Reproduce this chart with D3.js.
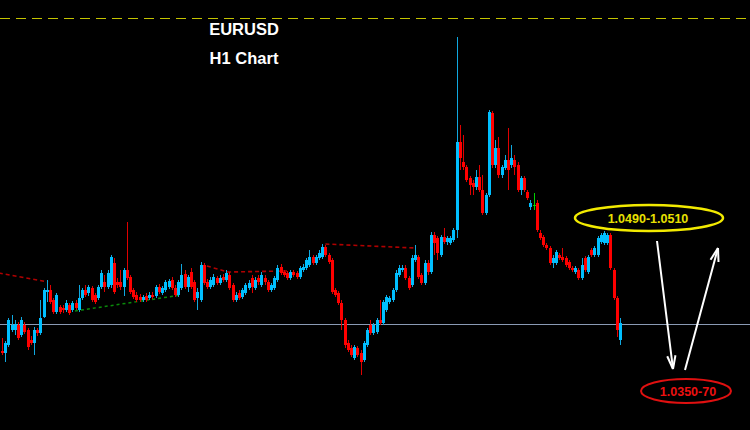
<!DOCTYPE html>
<html><head><meta charset="utf-8">
<script src="https://cdn.jsdelivr.net/npm/d3@7"></script>
<style>html,body{margin:0;padding:0;background:#000;}svg{display:block;}</style>
</head><body><svg id="c" width="750" height="430"></svg>
<script>
const opens = [1.0384,1.0382,1.0390,1.0405,1.0405,1.0410,1.0400,1.0410,1.0405,1.0395,1.0392,1.0405,1.0402,1.0418,1.0443,1.0445,1.0435,1.0423,1.0428,1.0427,1.0425,1.0430,1.0425,1.0432,1.0425,1.0437,1.0445,1.0442,1.0447,1.0440,1.0437,1.0448,1.0453,1.0448,1.0450,1.0472,1.0453,1.0453,1.0448,1.0465,1.0458,1.0445,1.0440,1.0438,1.0435,1.0439,1.0437,1.0440,1.0439,1.0448,1.0442,1.0445,1.0448,1.0455,1.0447,1.0440,1.0447,1.0461,1.0448,1.0463,1.0453,1.0437,1.0435,1.0470,1.0453,1.0448,1.0450,1.0457,1.0452,1.0458,1.0455,1.0460,1.0450,1.0435,1.0442,1.0438,1.0442,1.0447,1.0457,1.0447,1.0457,1.0450,1.0457,1.0453,1.0445,1.0447,1.0455,1.0468,1.0463,1.0462,1.0457,1.0463,1.0462,1.0458,1.0465,1.0467,1.0470,1.0478,1.0472,1.0477,1.0478,1.0488,1.0480,1.0475,1.0445,1.0442,1.0432,1.0415,1.0392,1.0387,1.0377,1.0387,1.0382,1.0375,1.0390,1.0410,1.0402,1.0403,1.0415,1.0412,1.0425,1.0433,1.0435,1.0445,1.0460,1.0465,1.0467,1.0457,1.0450,1.0475,1.0478,1.0460,1.0452,1.0472,1.0463,1.0500,1.0497,1.0480,1.0498,1.0493,1.0492,1.0495,1.0505,1.0593,1.0573,1.0568,1.0557,1.0552,1.0548,1.0558,1.0545,1.0522,1.0540,1.0622,1.0570,1.0587,1.0560,1.0567,1.0575,1.0570,1.0575,1.0570,1.0545,1.0557,1.0543,1.0528,1.0530,1.0532,1.0502,1.0498,1.0490,1.0487,1.0472,1.0472,1.0480,1.0478,1.0477,1.0473,1.0467,1.0463,1.0465,1.0457,1.0477,1.0463,1.0485,1.0480,1.0480,1.0493,1.0492,1.0492,1.0500,1.0465,1.0437,1.0395];
const highs = [1.0397,1.0394,1.0417,1.0420,1.0415,1.0413,1.0418,1.0413,1.0407,1.0399,1.0408,1.0407,1.0435,1.0447,1.0455,1.0450,1.0437,1.0442,1.0430,1.0430,1.0435,1.0432,1.0434,1.0435,1.0450,1.0447,1.0450,1.0450,1.0449,1.0442,1.0450,1.0465,1.0460,1.0465,1.0480,1.0477,1.0457,1.0465,1.0467,1.0513,1.0460,1.0447,1.0443,1.0441,1.0440,1.0442,1.0443,1.0443,1.0450,1.0451,1.0449,1.0455,1.0456,1.0458,1.0450,1.0455,1.0471,1.0465,1.0460,1.0467,1.0455,1.0447,1.0473,1.0472,1.0456,1.0458,1.0461,1.0459,1.0460,1.0461,1.0465,1.0463,1.0452,1.0443,1.0445,1.0447,1.0452,1.0455,1.0460,1.0458,1.0460,1.0463,1.0460,1.0455,1.0452,1.0459,1.0470,1.0471,1.0465,1.0464,1.0465,1.0465,1.0464,1.0469,1.0471,1.0477,1.0485,1.0480,1.0480,1.0485,1.0491,1.0490,1.0482,1.0477,1.0447,1.0444,1.0435,1.0417,1.0395,1.0390,1.0390,1.0389,1.0385,1.0394,1.0407,1.0415,1.0412,1.0417,1.0435,1.0435,1.0440,1.0439,1.0447,1.0465,1.0470,1.0470,1.0470,1.0459,1.0480,1.0490,1.0480,1.0462,1.0475,1.0475,1.0503,1.0503,1.0499,1.0500,1.0507,1.0499,1.0499,1.0507,1.0698,1.0610,1.0600,1.0570,1.0559,1.0555,1.0565,1.0570,1.0560,1.0542,1.0625,1.0624,1.0595,1.0598,1.0570,1.0580,1.0607,1.0590,1.0580,1.0573,1.0559,1.0559,1.0545,1.0535,1.0542,1.0535,1.0505,1.0500,1.0492,1.0489,1.0480,1.0485,1.0482,1.0487,1.0479,1.0475,1.0469,1.0469,1.0467,1.0477,1.0479,1.0480,1.0487,1.0489,1.0499,1.0502,1.0504,1.0502,1.0502,1.0467,1.0439,1.0417];
const lows = [1.0380,1.0373,1.0388,1.0403,1.0400,1.0395,1.0398,1.0401,1.0385,1.0390,1.0380,1.0399,1.0400,1.0417,1.0433,1.0431,1.0421,1.0421,1.0421,1.0422,1.0423,1.0420,1.0423,1.0425,1.0423,1.0435,1.0438,1.0439,1.0433,1.0431,1.0435,1.0446,1.0443,1.0446,1.0447,1.0441,1.0447,1.0445,1.0439,1.0455,1.0441,1.0436,1.0433,1.0433,1.0433,1.0433,1.0435,1.0436,1.0437,1.0441,1.0440,1.0443,1.0446,1.0445,1.0438,1.0438,1.0445,1.0446,1.0443,1.0446,1.0433,1.0425,1.0433,1.0450,1.0446,1.0446,1.0448,1.0450,1.0450,1.0453,1.0453,1.0445,1.0433,1.0433,1.0435,1.0436,1.0440,1.0445,1.0442,1.0445,1.0450,1.0448,1.0450,1.0443,1.0443,1.0445,1.0453,1.0460,1.0458,1.0455,1.0455,1.0458,1.0456,1.0456,1.0463,1.0465,1.0468,1.0470,1.0470,1.0475,1.0476,1.0478,1.0471,1.0441,1.0438,1.0430,1.0405,1.0387,1.0383,1.0378,1.0375,1.0378,1.0360,1.0373,1.0388,1.0400,1.0400,1.0401,1.0410,1.0410,1.0423,1.0431,1.0433,1.0443,1.0458,1.0463,1.0455,1.0445,1.0448,1.0473,1.0456,1.0450,1.0450,1.0460,1.0461,1.0480,1.0475,1.0478,1.0491,1.0490,1.0490,1.0493,1.0497,1.0565,1.0565,1.0553,1.0540,1.0540,1.0545,1.0543,1.0520,1.0520,1.0538,1.0567,1.0567,1.0557,1.0557,1.0565,1.0545,1.0567,1.0560,1.0543,1.0540,1.0543,1.0535,1.0525,1.0525,1.0503,1.0495,1.0488,1.0485,1.0470,1.0467,1.0470,1.0475,1.0473,1.0468,1.0465,1.0463,1.0461,1.0455,1.0455,1.0463,1.0461,1.0478,1.0478,1.0478,1.0491,1.0490,1.0490,1.0465,1.0435,1.0398,1.0390];
const closes = [1.0382,1.0392,1.0415,1.0410,1.0411,1.0397,1.0415,1.0403,1.0388,1.0392,1.0405,1.0402,1.0417,1.0445,1.0445,1.0433,1.0423,1.0440,1.0423,1.0425,1.0432,1.0422,1.0432,1.0427,1.0437,1.0445,1.0440,1.0448,1.0435,1.0433,1.0448,1.0462,1.0448,1.0462,1.0478,1.0443,1.0450,1.0448,1.0465,1.0457,1.0443,1.0438,1.0435,1.0435,1.0438,1.0435,1.0440,1.0438,1.0448,1.0443,1.0447,1.0453,1.0454,1.0447,1.0440,1.0453,1.0460,1.0448,1.0458,1.0448,1.0435,1.0443,1.0470,1.0452,1.0448,1.0455,1.0458,1.0452,1.0457,1.0455,1.0462,1.0447,1.0435,1.0440,1.0437,1.0445,1.0450,1.0452,1.0448,1.0455,1.0453,1.0460,1.0453,1.0445,1.0450,1.0457,1.0467,1.0462,1.0460,1.0457,1.0463,1.0460,1.0458,1.0467,1.0468,1.0475,1.0478,1.0472,1.0478,1.0482,1.0488,1.0480,1.0473,1.0443,1.0440,1.0432,1.0415,1.0390,1.0385,1.0380,1.0388,1.0380,1.0373,1.0392,1.0405,1.0402,1.0410,1.0415,1.0412,1.0433,1.0438,1.0437,1.0445,1.0462,1.0467,1.0467,1.0457,1.0447,1.0477,1.0480,1.0458,1.0452,1.0472,1.0463,1.0500,1.0492,1.0482,1.0498,1.0493,1.0497,1.0497,1.0505,1.0593,1.0577,1.0568,1.0555,1.0550,1.0548,1.0558,1.0545,1.0522,1.0540,1.0623,1.0570,1.0587,1.0560,1.0568,1.0575,1.0565,1.0577,1.0568,1.0545,1.0557,1.0545,1.0537,1.0532,1.0530,1.0505,1.0497,1.0490,1.0487,1.0472,1.0477,1.0483,1.0477,1.0475,1.0470,1.0467,1.0465,1.0467,1.0457,1.0470,1.0465,1.0478,1.0480,1.0487,1.0497,1.0500,1.0502,1.0500,1.0467,1.0437,1.0405,1.0412];

const topLevel = 1.0717;
const supportLevel = 1.0411;
const redTrendA = [{i: -1, p: 1.0462}, {i: 14.4, p: 1.0453}];
const redTrendB = [{i: 64, p: 1.0469}, {i: 70.6, p: 1.0463}, {i: 89, p: 1.0464}];
const redTrendC = [{i: 101, p: 1.0491}, {i: 129, p: 1.0487}];
const greenTrend = [{i: 22.8, p: 1.0424}, {i: 56, p: 1.0440}];
const titleLines = ["EURUSD", "H1 Chart"];
const upperZoneLabel = "1.0490-1.0510";
const lowerZoneLabel = "1.0350-70";

const W = 750, H = 430;
const svg = d3.select("#c");
svg.append("rect").attr("width", W).attr("height", H).attr("fill", "#000");

const candles = opens.map((o, i) => ({i, o, h: highs[i], l: lows[i], c: closes[i]}));
const x = d3.scaleLinear().domain([0, candles.length - 1]).range([2, 620]);
const y = d3.scaleLinear().domain([1.0305, 1.0735]).range([H, 0]);

// top dashed level
const yTop = Math.round(y(topLevel)) + 0.5;
svg.append("line").attr("x1", 0).attr("x2", W)
  .attr("y1", yTop).attr("y2", yTop)
  .attr("stroke", "#c4c400").attr("stroke-width", 1).attr("stroke-dasharray", "10,6");

// support line
const ySup = Math.round(y(supportLevel)) + 0.5;
svg.append("line").attr("x1", 0).attr("x2", W)
  .attr("y1", ySup).attr("y2", ySup)
  .attr("stroke", "#8a9ab4").attr("stroke-width", 1);

const line = d3.line().x(d => x(d.i)).y(d => y(d.p));
[redTrendA, redTrendB, redTrendC].forEach(t => {
  svg.append("path").attr("d", line(t)).attr("fill", "none")
    .attr("stroke", "#b00000").attr("stroke-width", 1.6).attr("stroke-dasharray", "4,3");
});
svg.append("path").attr("d", line(greenTrend)).attr("fill", "none")
  .attr("stroke", "#0a8a0a").attr("stroke-width", 1.5).attr("stroke-dasharray", "3,3");

const colorOf = d => d.c > d.o ? "#00bfff" : (d.c < d.o ? "#ff0000" : "#00d000");
const wickOf = d => d.c > d.o ? "#10a8e0" : (d.c < d.o ? "#e00000" : "#00d000");

const g = svg.append("g").attr("shape-rendering", "crispEdges");
g.selectAll("line.wick").data(candles).join("line").attr("class", "wick")
  .attr("x1", d => Math.round(x(d.i)) + 0.5).attr("x2", d => Math.round(x(d.i)) + 0.5)
  .attr("y1", d => y(d.h)).attr("y2", d => y(d.l))
  .attr("stroke", wickOf).attr("stroke-width", 1);
g.selectAll("rect.body").data(candles).join("rect").attr("class", "body")
  .attr("x", d => Math.round(x(d.i)) - 1)
  .attr("width", 3)
  .attr("y", d => y(Math.max(d.o, d.c)))
  .attr("height", d => Math.max(1, Math.abs(y(d.o) - y(d.c))))
  .attr("fill", colorOf);

// titles
svg.selectAll("text.title").data(titleLines).join("text").attr("class", "title")
  .attr("x", 244).attr("y", (d, i) => 35 + i * 29)
  .attr("text-anchor", "middle").attr("fill", "#fff")
  .attr("font-family", "Liberation Sans, Arial, sans-serif").attr("font-weight", "bold")
  .attr("font-size", 16.5).text(d => d);

// zone ellipses
svg.append("ellipse").attr("cx", 649).attr("cy", 218).attr("rx", 74).attr("ry", 13)
  .attr("fill", "none").attr("stroke", "#f2ea00").attr("stroke-width", 2.5);
svg.append("text").attr("x", 648).attr("y", 222.5).attr("text-anchor", "middle")
  .attr("fill", "#e8e000").attr("font-family", "Liberation Sans, Arial, sans-serif")
  .attr("font-weight", "bold").attr("font-size", 12.5).text(upperZoneLabel);

svg.append("ellipse").attr("cx", 686).attr("cy", 391).attr("rx", 45).attr("ry", 12)
  .attr("fill", "none").attr("stroke", "#e01010").attr("stroke-width", 2);
svg.append("text").attr("x", 688).attr("y", 395.5).attr("text-anchor", "middle")
  .attr("fill", "#ee1010").attr("font-family", "Liberation Sans, Arial, sans-serif")
  .attr("font-weight", "bold").attr("font-size", 12.5).text(lowerZoneLabel);

// arrows
function arrow(x1, y1, x2, y2) {
  svg.append("line").attr("x1", x1).attr("y1", y1).attr("x2", x2).attr("y2", y2)
    .attr("stroke", "#fff").attr("stroke-width", 2);
  const a = Math.atan2(y2 - y1, x2 - x1), L = 14, s = 0.3;
  [a + Math.PI - s, a + Math.PI + s].forEach(b => {
    svg.append("line").attr("x1", x2).attr("y1", y2)
      .attr("x2", x2 + L * Math.cos(b)).attr("y2", y2 + L * Math.sin(b))
      .attr("stroke", "#fff").attr("stroke-width", 2);
  });
}
arrow(657, 241, 673, 369);
arrow(685, 370, 718, 248);
</script></body></html>
